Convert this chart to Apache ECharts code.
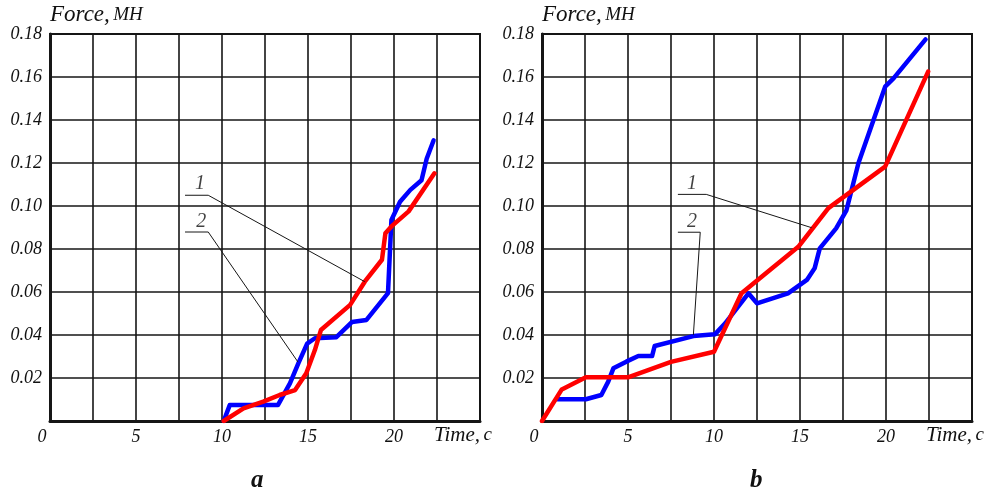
<!DOCTYPE html>
<html><head><meta charset="utf-8">
<script src="https://cdn.jsdelivr.net/npm/echarts@6/dist/echarts.min.js"></script>
<style>html,body{margin:0;padding:0;background:#fff}#c{width:996px;height:493px}</style>
</head><body><div id="c"></div>
<script>
// Tick labels
const xTickLabels = ['0', '5', '10', '15', '20'];
const yTickLabels = ['0.02', '0.04', '0.06', '0.08', '0.10', '0.12', '0.14', '0.16', '0.18'];

// Panel a: curve 1 (red), curve 2 (blue)  [time, force]
const aCurve1 = [[10.1,0],[11.25,0.0059],[12.4,0.009],[13.35,0.0121],[14.25,0.0144],[14.9,0.0222],[15.4,0.033],[15.75,0.0423],[17.45,0.054],[18.3,0.0648],[19.3,0.075],[19.5,0.0873],[19.85,0.0905],[20.85,0.0975],[22.35,0.1152]];
const aCurve2 = [[10.1,0],[10.45,0.0074],[13.25,0.0074],[13.95,0.0175],[14.45,0.027],[14.95,0.036],[15.4,0.0385],[16.65,0.039],[17.55,0.046],[18.4,0.047],[19.65,0.0595],[19.85,0.0935],[20.35,0.102],[20.95,0.1075],[21.6,0.112],[21.9,0.122],[22.3,0.1305]];

// Panel b
const bCurve1 = [[0,0],[1.15,0.0147],[2.55,0.0203],[5.0,0.0203],[7.5,0.0275],[10.0,0.0322],[11.6,0.0594],[14.9,0.081],[16.65,0.099],[19.95,0.1183],[22.45,0.1625]];
const bCurve2 = [[0.9,0.0101],[2.55,0.0101],[3.45,0.0121],[3.85,0.0183],[4.15,0.0245],[4.9,0.0276],[5.6,0.0302],[6.4,0.0302],[6.55,0.0349],[8.8,0.0395],[10.05,0.0403],[10.65,0.0454],[12.0,0.0594],[12.5,0.0547],[14.3,0.0594],[15.4,0.0656],[15.85,0.071],[16.15,0.0803],[17.1,0.0896],[17.7,0.098],[18.4,0.12],[19.95,0.1555],[20.45,0.1595],[22.3,0.1775]];

// Leader lines for curve labels
const aLeader1 = [[7.85,0.105],[9.2,0.105],[18.3,0.0648]];
const aLeader2 = [[7.85,0.0879],[9.2,0.0879],[14.42,0.0274]];
const bLeader1 = [[7.9,0.1054],[9.55,0.1054],[15.68,0.0899]];
const bLeader2 = [[7.9,0.0878],[9.2,0.0878],[8.8,0.040]];
const aLabelPos = [[8.72,0.1105,'1'],[8.8,0.0925,'2']];
const bLabelPos = [[8.72,0.1105,'1'],[8.72,0.0925,'2']];

const SERIF = '"Liberation Serif","Times New Roman",serif';
const INK = '#161616';
const TXT = '#111';

function makeX(i){
  return {
    type:'value', gridIndex:i, min:0, max:25, interval:2.5,
    axisLine:{show:true, onZero:false, lineStyle:{color:INK, width:3}},
    axisTick:{show:false},
    splitLine:{show:true, lineStyle:{color:INK, width:1.6}},
    axisLabel:{
      margin:7, fontFamily:SERIF, fontStyle:'italic', fontSize:18, color:TXT,
      formatter:function(v){
        const s = String(Math.round(v*100)/100);
        if (xTickLabels.indexOf(s) < 0) return '';
        return s === '0' ? '{z|0}' : s;
      },
      rich:{z:{fontFamily:SERIF, fontStyle:'italic', fontSize:18, color:TXT, padding:[0,16,0,0]}}
    },
    name:'{t|Time,} {c|c}', nameLocation:'end', nameGap:-46,
    nameTextStyle:{
      verticalAlign:'middle', padding:[28,0,0,0],
      rich:{t:{fontFamily:SERIF, fontStyle:'italic', fontSize:21, color:TXT},
            c:{fontFamily:SERIF, fontStyle:'italic', fontSize:19, color:TXT}}
    }
  };
}
function makeY(i){
  return {
    type:'value', gridIndex:i, min:0, max:0.18, interval:0.02,
    axisLine:{show:true, onZero:false, lineStyle:{color:INK, width:3}},
    axisTick:{show:false},
    splitLine:{show:true, lineStyle:{color:INK, width:1.6}},
    axisLabel:{
      margin:8, fontFamily:SERIF, fontStyle:'italic', fontSize:18, color:TXT,
      formatter:function(v){
        const s = v.toFixed(2);
        return yTickLabels.indexOf(s) < 0 ? '' : s;
      }
    },
    name:'{f|Force,} {m|MH}', nameLocation:'end', nameGap:8,
    nameTextStyle:{
      align:'left', verticalAlign:'bottom',
      rich:{f:{fontFamily:SERIF, fontStyle:'italic', fontSize:23, color:TXT},
            m:{fontFamily:SERIF, fontStyle:'italic', fontSize:19, color:TXT}}
    }
  };
}
function curve(i, data, color){
  return {type:'line', xAxisIndex:i, yAxisIndex:i, data:data, showSymbol:false, symbol:'none',
    lineStyle:{color:color, width:4.5, join:'round', cap:'round'}, z:3, silent:true};
}
function leader(i, data){
  return {type:'line', xAxisIndex:i, yAxisIndex:i, data:data, showSymbol:false, symbol:'none',
    lineStyle:{color:INK, width:1}, z:4, silent:true};
}
function labels(i, data){
  return {type:'scatter', xAxisIndex:i, yAxisIndex:i, symbolSize:1, itemStyle:{color:'rgba(0,0,0,0)'},
    data:data.map(d=>({value:[d[0],d[1]], name:d[2]})),
    label:{show:true, position:'inside', formatter:'{b}', fontFamily:SERIF, fontStyle:'italic', fontSize:20, color:TXT},
    z:5, silent:true};
}

const chart = echarts.init(document.getElementById('c'), null, {renderer:'canvas'});
chart.setOption({
  animation:false,
  backgroundColor:'#fff',
  grid:[
    {left:50, top:34, width:430, height:387, show:true, borderColor:INK, borderWidth:2, backgroundColor:'transparent'},
    {left:542, top:34, width:430, height:387, show:true, borderColor:INK, borderWidth:2, backgroundColor:'transparent'}
  ],
  xAxis:[makeX(0), makeX(1)],
  yAxis:[makeY(0), makeY(1)],
  series:[
    curve(0, aCurve2, '#0000ff'), curve(0, aCurve1, '#ff0000'),
    curve(1, bCurve2, '#0000ff'), curve(1, bCurve1, '#ff0000'),
    leader(0, aLeader1), leader(0, aLeader2), leader(1, bLeader1), leader(1, bLeader2),
    labels(0, aLabelPos), labels(1, bLabelPos)
  ],
  graphic:[
    {type:'text', left:251, top:468, style:{text:'a', font:'bold italic 25px "Liberation Serif", serif', fill:'#111'}},
    {type:'text', left:750, top:468, style:{text:'b', font:'bold italic 25px "Liberation Serif", serif', fill:'#111'}}
  ]
});
</script></body></html>
